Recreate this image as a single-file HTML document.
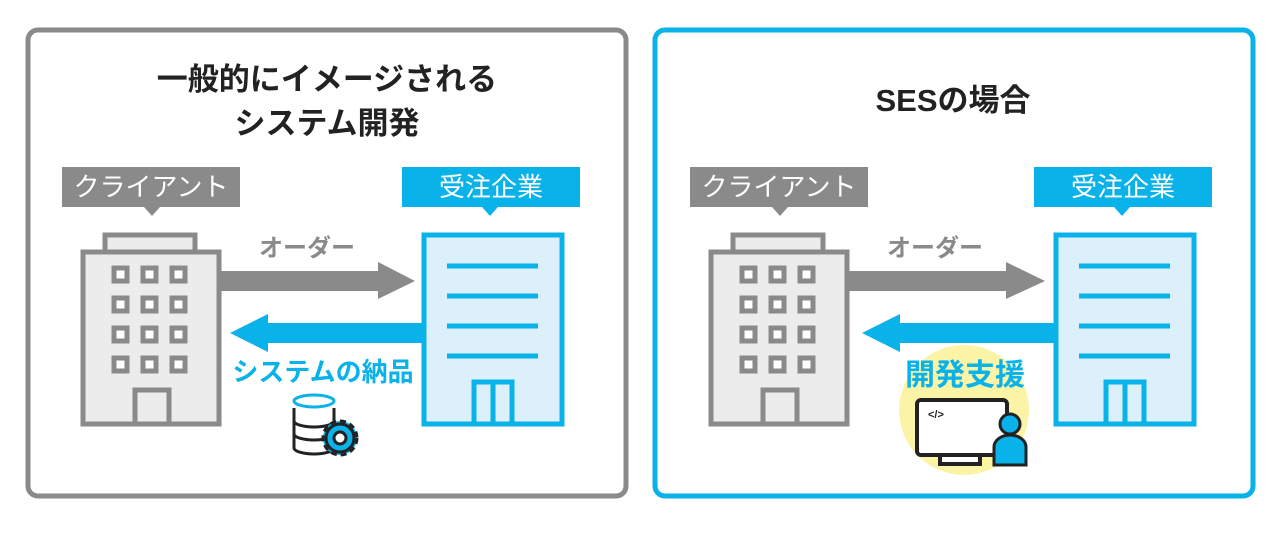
<!DOCTYPE html>
<html><head><meta charset="utf-8"><style>
body{margin:0;width:1280px;height:528px;background:#fff;overflow:hidden}
text{font-family:"Liberation Sans","Noto Sans CJK JP",sans-serif;font-weight:bold}
text.n{font-weight:normal}
</style></head><body>
<svg width="1280" height="528" viewBox="0 0 1280 528">
<defs>
<g id="client">
 <rect x="105" y="235" width="90" height="17" fill="#ececec" stroke="#8a8a8a" stroke-width="5"/>
 <rect x="83" y="252" width="136" height="172" fill="#ececec" stroke="#8a8a8a" stroke-width="5"/>
 <g fill="#fff" stroke="#8a8a8a" stroke-width="5">
  <rect x="114" y="268" width="13" height="13"/><rect x="143" y="268" width="13" height="13"/><rect x="172" y="268" width="13" height="13"/>
  <rect x="114" y="298" width="13" height="13"/><rect x="143" y="298" width="13" height="13"/><rect x="172" y="298" width="13" height="13"/>
  <rect x="114" y="328" width="13" height="13"/><rect x="143" y="328" width="13" height="13"/><rect x="172" y="328" width="13" height="13"/>
  <rect x="114" y="358" width="13" height="13"/><rect x="143" y="358" width="13" height="13"/><rect x="172" y="358" width="13" height="13"/>
 </g>
 <rect x="135" y="390" width="34" height="34" fill="#ececec" stroke="#8a8a8a" stroke-width="5"/>
 <rect x="62" y="167" width="178" height="40" fill="#8a8a8a"/>
 <polygon points="144,207 160,207 152,216" fill="#8a8a8a"/>
 <text class="n" x="151" y="196" font-size="26" fill="#fff" text-anchor="middle">クライアント</text>
</g>
<g id="vendor">
 <rect x="424" y="235" width="138" height="189" fill="#dcf0fb" stroke="#0ab2ea" stroke-width="5"/>
 <g stroke="#0ab2ea" stroke-width="5"><line x1="447" y1="266" x2="538" y2="266"/><line x1="447" y1="296" x2="538" y2="296"/><line x1="447" y1="326" x2="538" y2="326"/><line x1="447" y1="356" x2="538" y2="356"/></g>
 <rect x="474" y="382" width="38" height="42" fill="#dcf0fb" stroke="#0ab2ea" stroke-width="5"/>
 <line x1="493" y1="382" x2="493" y2="424" stroke="#0ab2ea" stroke-width="5"/>
 <rect x="402" y="167" width="178" height="40" fill="#0ab2ea"/>
 <polygon points="482,207 498,207 490,216" fill="#0ab2ea"/>
 <text class="n" x="491" y="196" font-size="26" fill="#fff" text-anchor="middle">受注企業</text>
</g>
</defs>

<rect x="28" y="30" width="598" height="466" rx="10" fill="none" stroke="#8a8a8a" stroke-width="5"/>
<rect x="655" y="30" width="598" height="466" rx="10" fill="none" stroke="#0ab2ea" stroke-width="5"/>

<text x="327" y="90" font-size="31" text-anchor="middle" fill="#222">一般的にイメージされる</text>
<text x="327" y="134" font-size="31" text-anchor="middle" fill="#222">システム開発</text>
<text x="953" y="111" font-size="31" text-anchor="middle" fill="#222">SESの場合</text>

<use href="#client"/>
<use href="#vendor"/>
<use href="#client" x="628"/>
<use href="#vendor" x="632"/>

<rect x="221" y="271" width="160" height="20" fill="#8a8a8a"/>
<polygon points="378,262 415,281 378,299" fill="#8a8a8a"/>
<text x="307" y="256" font-size="24" text-anchor="middle" fill="#8a8a8a">オーダー</text>
<rect x="265" y="323" width="157" height="20" fill="#0ab2ea"/>
<polygon points="268,314 230,333 268,352" fill="#0ab2ea"/>
<text x="323" y="381" font-size="26" text-anchor="middle" fill="#0ab2ea">システムの納品</text>
<g stroke="#222" stroke-width="3" fill="#fff">
 <path d="M294,408 v40 a20,6 0 0 0 40,0 v-40"/>
 <path d="M294,421 a20,6 0 0 0 40,0 M294,434 a20,6 0 0 0 40,0" fill="none"/>
</g>
<ellipse cx="314" cy="401" rx="20" ry="6" fill="none" stroke="#0ab2ea" stroke-width="3"/>
<g transform="translate(340,438)">
 <circle r="17" fill="#0ab2ea" stroke="#222" stroke-width="3" stroke-dasharray="6 4"/>
 <circle r="14" fill="#0ab2ea" stroke="#222" stroke-width="3"/>
 <circle r="6" fill="#fff" stroke="#222" stroke-width="3"/>
</g>

<rect x="849" y="271" width="160" height="20" fill="#8a8a8a"/>
<polygon points="1006,262 1045,281 1006,299" fill="#8a8a8a"/>
<text x="935" y="256" font-size="24" text-anchor="middle" fill="#8a8a8a">オーダー</text>
<circle cx="964" cy="410" r="65" fill="#fbf4a6"/>
<rect x="897" y="323" width="160" height="20" fill="#0ab2ea"/>
<polygon points="900,314 862,333 900,352" fill="#0ab2ea"/>
<text x="965" y="385" font-size="30" text-anchor="middle" fill="#0ab2ea">開発支援</text>
<rect x="917" y="400" width="90" height="55" rx="4" fill="#fff" stroke="#222" stroke-width="4"/>
<rect x="940" y="455" width="40" height="9" fill="#fff" stroke="#222" stroke-width="4"/>
<text x="928" y="418" font-size="11" fill="#222">&lt;/&gt;</text>
<circle cx="1010" cy="424" r="10" fill="#0ab2ea" stroke="#222" stroke-width="3"/>
<path d="M994,465 v-18 a16,12 0 0 1 32,0 v18 z" fill="#0ab2ea" stroke="#222" stroke-width="3"/>
</svg>
</body></html>
